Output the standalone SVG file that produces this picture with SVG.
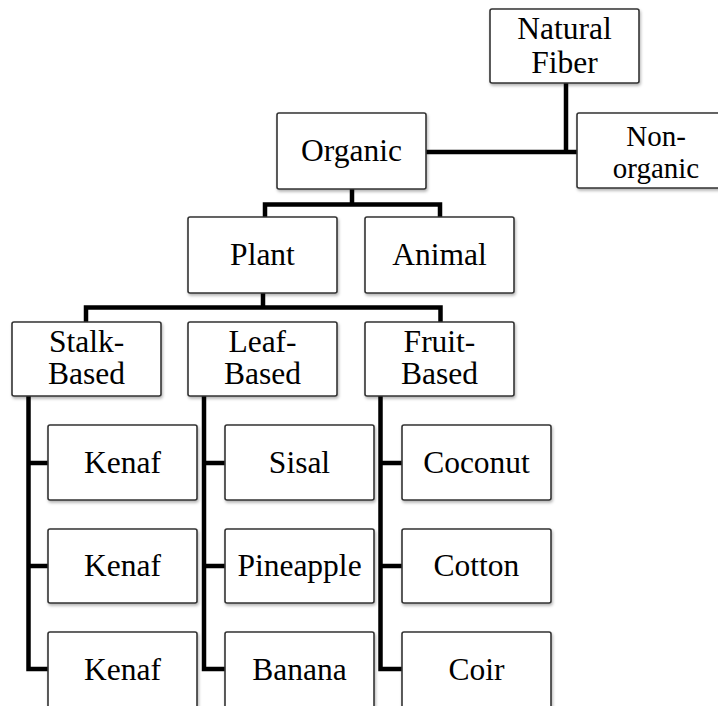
<svg xmlns="http://www.w3.org/2000/svg" width="718" height="706" viewBox="0 0 718 706">
<defs>
<filter id="sh" x="-10%" y="-10%" width="130%" height="140%">
<feDropShadow dx="1" dy="2" stdDeviation="1.5" flood-color="#000" flood-opacity="0.3"/>
</filter>
<style>
.box{fill:#fff;stroke:#333;stroke-width:1.6;filter:url(#sh)}
.t{font-family:"Liberation Serif","Times New Roman",serif;font-size:31.5px;fill:#000;text-anchor:middle}
.s{font-size:29px}
.c{fill:none;stroke:#000;stroke-width:4.5;stroke-linejoin:miter;stroke-linecap:square}
</style>
</defs>
<rect width="718" height="706" fill="#fff"/>
<g id="connectors">
<path class="c" d="M566,83 V152 M426,152 H575"/>
<path class="c" d="M352,189 V204.5 M265,217 V204.5 H440 V217"/>
<path class="c" d="M263,293 V307.5 M86,320 V307.5 H440.5 V320"/>
<path class="c" d="M28.5,396 V669 M28.5,463 H48 M28.5,566 H48 M28.5,669 H48"/>
<path class="c" d="M204,396 V669 M204,463 H225 M204,566 H225 M204,669 H225"/>
<path class="c" d="M380.5,396 V669 M380.5,463 H402 M380.5,566 H402 M380.5,669 H402"/>
</g>
<g id="natural-fiber"><rect class="box" x="490" y="9" width="149" height="74" rx="2"/><text class="t" x="564.5" y="39">Natural</text><text class="t" x="564.5" y="73">Fiber</text></g>
<g id="non-organic"><rect class="box" x="577" y="113" width="149" height="75" rx="2"/><text class="t s" x="656" y="146">Non-</text><text class="t s" x="656" y="178">organic</text></g>
<g id="organic"><rect class="box" x="277" y="113" width="149" height="76" rx="2"/><text class="t" x="351.5" y="161">Organic</text></g>
<g id="plant"><rect class="box" x="188" y="217" width="149" height="76" rx="2"/><text class="t" x="262.5" y="265">Plant</text></g>
<g id="animal"><rect class="box" x="365" y="217" width="149" height="76" rx="2"/><text class="t" x="439.5" y="265">Animal</text></g>
<g id="stalk-based"><rect class="box" x="12" y="322" width="149" height="74" rx="2"/><text class="t" x="86.5" y="352">Stalk-</text><text class="t" x="86.5" y="384">Based</text></g>
<g id="leaf-based"><rect class="box" x="188" y="322" width="149" height="74" rx="2"/><text class="t" x="262.5" y="352">Leaf-</text><text class="t" x="262.5" y="384">Based</text></g>
<g id="fruit-based"><rect class="box" x="365" y="322" width="149" height="74" rx="2"/><text class="t" x="439.5" y="352">Fruit-</text><text class="t" x="439.5" y="384">Based</text></g>
<g id="kenaf-1"><rect class="box" x="48" y="425" width="149" height="75" rx="2"/><text class="t" x="122.5" y="473">Kenaf</text></g>
<g id="kenaf-2"><rect class="box" x="48" y="529" width="149" height="74" rx="2"/><text class="t" x="122.5" y="576">Kenaf</text></g>
<g id="kenaf-3"><rect class="box" x="48" y="632" width="149" height="76" rx="2"/><text class="t" x="122.5" y="680">Kenaf</text></g>
<g id="sisal"><rect class="box" x="225" y="425" width="149" height="75" rx="2"/><text class="t" x="299.5" y="473">Sisal</text></g>
<g id="pineapple"><rect class="box" x="225" y="529" width="149" height="74" rx="2"/><text class="t" x="299.5" y="576">Pineapple</text></g>
<g id="banana"><rect class="box" x="225" y="632" width="149" height="76" rx="2"/><text class="t" x="299.5" y="680">Banana</text></g>
<g id="coconut"><rect class="box" x="402" y="425" width="149" height="75" rx="2"/><text class="t" x="476.5" y="473">Coconut</text></g>
<g id="cotton"><rect class="box" x="402" y="529" width="149" height="74" rx="2"/><text class="t" x="476.5" y="576">Cotton</text></g>
<g id="coir"><rect class="box" x="402" y="632" width="149" height="76" rx="2"/><text class="t" x="476.5" y="680">Coir</text></g>
</svg>
